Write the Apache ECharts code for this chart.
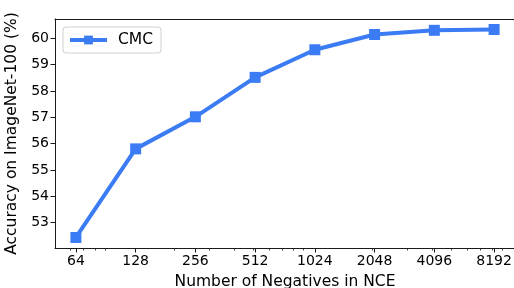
<!DOCTYPE html>
<html>
<head>
<meta charset="utf-8">
<script src="https://cdn.jsdelivr.net/npm/echarts@6/dist/echarts.min.js"></script>
<style>html,body{margin:0;padding:0;background:#fff;}#c{width:514px;height:288px;}</style>
</head>
<body>
<div id="c"></div>
<script>
const negatives = [64, 128, 256, 512, 1024, 2048, 4096, 8192];
const cmcAcc = [52.43, 55.8, 57.02, 58.52, 59.57, 60.15, 60.31, 60.34];
const xTickLabels = [64, 128, 256, 512, 1024, 2048, 4096, 8192];
const xMinorTicks = [60, 70, 80, 90, 200, 300, 400, 500, 600, 700, 800, 900, 2000, 3000, 4000, 5000, 6000, 7000, 8000, 9000];
const yTickLabels = [53, 54, 55, 56, 57, 58, 59, 60];

const FONT = 'DejaVu Sans';
const BLUE = '#3b7cf4';
const SPINE = '#1a1a1a';
const xMin = Math.pow(2, 5.65), xMax = Math.pow(2, 13.35);

const chart = echarts.init(document.getElementById('c'), null, {renderer: 'canvas'});
chart.setOption({
  animation: false,
  textStyle: {fontFamily: FONT},
  grid: {left: 55, top: 19, right: -1, bottom: 40, containLabel: false, outerBoundsMode: 'none', show: false},
  legend: {
    left: 63, top: 27,
    data: ['CMC'],
    padding: [5, 8, 5, 5],
    borderColor: '#d0d0d0', borderWidth: 1, borderRadius: 3,
    itemWidth: 37, itemHeight: 11,
    lineStyle: {width: 4},
    textStyle: {fontFamily: FONT, fontSize: 15.5, color: '#000', padding: [0, 0, 0, 6]}
  },
  xAxis: [{
    type: 'log', logBase: 2, min: xMin, max: xMax,
    name: 'Number of Negatives in NCE', nameLocation: 'middle', nameGap: 26,
    nameTextStyle: {fontFamily: FONT, fontSize: 15.5, color: '#000'},
    axisLine: {show: true, lineStyle: {color: SPINE, width: 1}},
    axisTick: {show: true, length: 4.5, lineStyle: {color: SPINE, width: 1}, customValues: xTickLabels},
    axisLabel: {fontFamily: FONT, fontSize: 14, color: '#000', margin: 6, customValues: xTickLabels,
                formatter: v => String(Math.round(v))},
    splitLine: {show: false}, minorTick: {show: false}
  }, {
    type: 'log', logBase: 2, min: xMin, max: xMax, position: 'bottom',
    axisLine: {show: false},
    axisTick: {show: true, length: 2.5, lineStyle: {color: SPINE, width: 0.8}, customValues: xMinorTicks},
    axisLabel: {show: false},
    splitLine: {show: false}
  }, {
    type: 'log', logBase: 2, min: xMin, max: xMax, position: 'top',
    axisLine: {show: true, lineStyle: {color: SPINE, width: 1}},
    axisTick: {show: false}, axisLabel: {show: false}, splitLine: {show: false}
  }],
  yAxis: {
    type: 'value', min: 52.03, max: 60.74,
    name: 'Accuracy on ImageNet-100 (%)', nameLocation: 'middle', nameGap: 29,
    nameTextStyle: {fontFamily: FONT, fontSize: 15.5, color: '#000'},
    axisLine: {show: true, lineStyle: {color: SPINE, width: 1}},
    axisTick: {show: true, length: 4.5, lineStyle: {color: SPINE, width: 1}, customValues: yTickLabels},
    axisLabel: {fontFamily: FONT, fontSize: 14, color: '#000', margin: 6, customValues: yTickLabels,
                formatter: v => String(Math.round(v))},
    splitLine: {show: false}
  },
  series: [{
    name: 'CMC', type: 'line', xAxisIndex: 0,
    data: negatives.map((n, i) => [n, cmcAcc[i]]),
    symbol: 'rect', symbolSize: 11,
    lineStyle: {width: 4, color: BLUE},
    itemStyle: {color: BLUE}
  }]
});
</script>
</body>
</html>
